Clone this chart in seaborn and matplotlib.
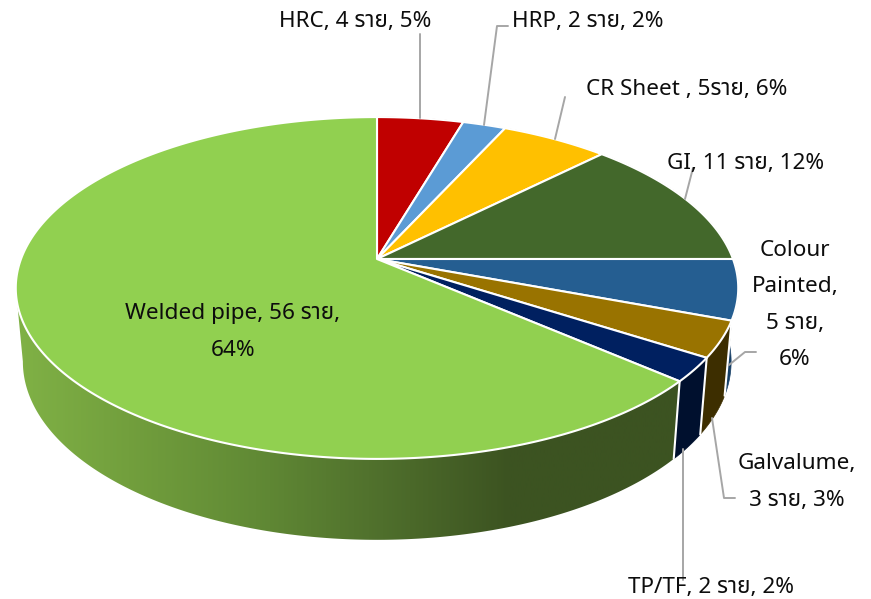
import numpy as np
import matplotlib
matplotlib.use("Agg")
import matplotlib.pyplot as plt
import seaborn as sns

# Data
products = ['HRC', 'HRP', 'CR Sheet', 'GI', 'Colour Painted', 'Galvalume', 'TP/TF', 'Welded pipe']
counts = [4, 2, 5, 11, 5, 3, 2, 56]
labels = ['HRC, 4 ราย, 5%', 'HRP, 2 ราย, 2%', 'CR Sheet , 5ราย, 6%', 'GI, 11 ราย, 12%',
          'Colour\nPainted,\n5 ราย,\n6%', 'Galvalume,\n3 ราย, 3%', 'TP/TF, 2 ราย, 2%',
          'Welded pipe, 56 ราย,\n64%']
top_colors = ['#c00000', '#5b9bd5', '#ffc000', '#43682b', '#255e91', '#997300', '#002060', '#91d050']
side_colors = ['#730000', '#375d80', '#997300', '#283e1a', '#163f66', '#3d2e00', '#00102e', None]
gradient_stops = ['#82b447', '#729f3d', '#618a35', '#4f6f2c', '#3c5321']

# Layout, in pixels of the 871x599 picture
label_pos = [(355, 22), (588, 22), (687, 90), (746, 163), (795, 250), (797, 464), (711, 588), (233, 314)]
line_step = 36.5
leaders = [
    [(420, 34), (420, 118)],
    [(508, 26), (497, 26), (484, 125)],
    [(565, 97), (555, 139)],
    [(693, 168), (685, 199)],
    [(756, 352), (745, 352), (729, 365)],
    [(735, 498), (724, 498), (712, 418)],
    [(683, 449), (683, 580)],
]
CX = 377
PERSP = 0.1696
TOP = dict(y0=259, dx=356, dy=166)
BOTTOM = dict(y0=331.5, dx=349, dy=173)
SILHOUETTE = 0.723  # where the wall turns away on the left
GRADIENT_END = 510  # wall stays at the darkest colour right of this x

sns.set_theme(style="white")
plt.rcParams['font.family'] = ['Noto Sans', 'Noto Sans Thai', 'DejaVu Sans']


def project(frac, y0, dx, dy):
    # circle point, clockwise from 12 o'clock, to picture coordinates
    t = 2 * np.pi * np.asarray(frac)
    den = 1 + PERSP * np.cos(t)
    return CX + dx * np.sin(t) / den, y0 - dy * np.cos(t) / den


fig = plt.figure(figsize=(8.71, 5.99), dpi=100)
ax = fig.add_axes([0, 0, 1, 1])
ax.set_xlim(0, 871)
ax.set_ylim(599, 0)
ax.axis('off')

edges = np.cumsum([0] + counts) / sum(counts)
side_cmap = sns.blend_palette(gradient_stops, as_cmap=True)

# side wall first, the top face hides whatever faces backwards
for i in range(len(counts)):
    end = min(edges[i + 1], SILHOUETTE) if side_colors[i] is None else edges[i + 1]
    steps = np.linspace(edges[i], end, max(6, counts[i] * 8))
    tx, ty = project(steps, **TOP)
    bx, by = project(steps, **BOTTOM)
    wall = np.c_[np.r_[tx, bx[::-1]], np.r_[ty, by[::-1]]]
    if side_colors[i] is None:
        patch = ax.fill(wall[:, 0], wall[:, 1], color='none', zorder=1)[0]
        ramp = np.clip(np.linspace(0, 700, 512) / GRADIENT_END, 0, 1)
        img = ax.imshow(ramp[None, :], extent=(0, 700, 599, 0), cmap=side_cmap,
                        aspect='auto', zorder=1)
        img.set_clip_path(patch)
    else:
        ax.fill(wall[:, 0], wall[:, 1], color=side_colors[i], lw=0.5, zorder=1)
ax.set_xlim(0, 871)
ax.set_ylim(599, 0)

for f in edges:
    tx, ty = project(f, **TOP)
    bx, by = project(f, **BOTTOM)
    ax.plot([tx, bx], [ty, by], color='white', lw=1.5, zorder=2)

# top face
for i in range(len(counts)):
    steps = np.linspace(edges[i], edges[i + 1], max(6, counts[i] * 8))
    tx, ty = project(steps, **TOP)
    xs = np.r_[CX, tx]
    ys = np.r_[TOP['y0'], ty]
    ax.fill(xs, ys, facecolor=top_colors[i], edgecolor='white', lw=1.5, joinstyle='round', zorder=3)

for pts in leaders:
    ax.plot(*zip(*pts), color='#a6a6a6', lw=1.4, zorder=4)

for text, (x, y) in zip(labels, label_pos):
    for k, line in enumerate(text.split('\n')):
        ax.text(x, y + k * line_step, line, ha='center', va='center', fontsize=16.2, color='#0d0d0d', zorder=5)

fig.savefig('out.png', dpi=100)
